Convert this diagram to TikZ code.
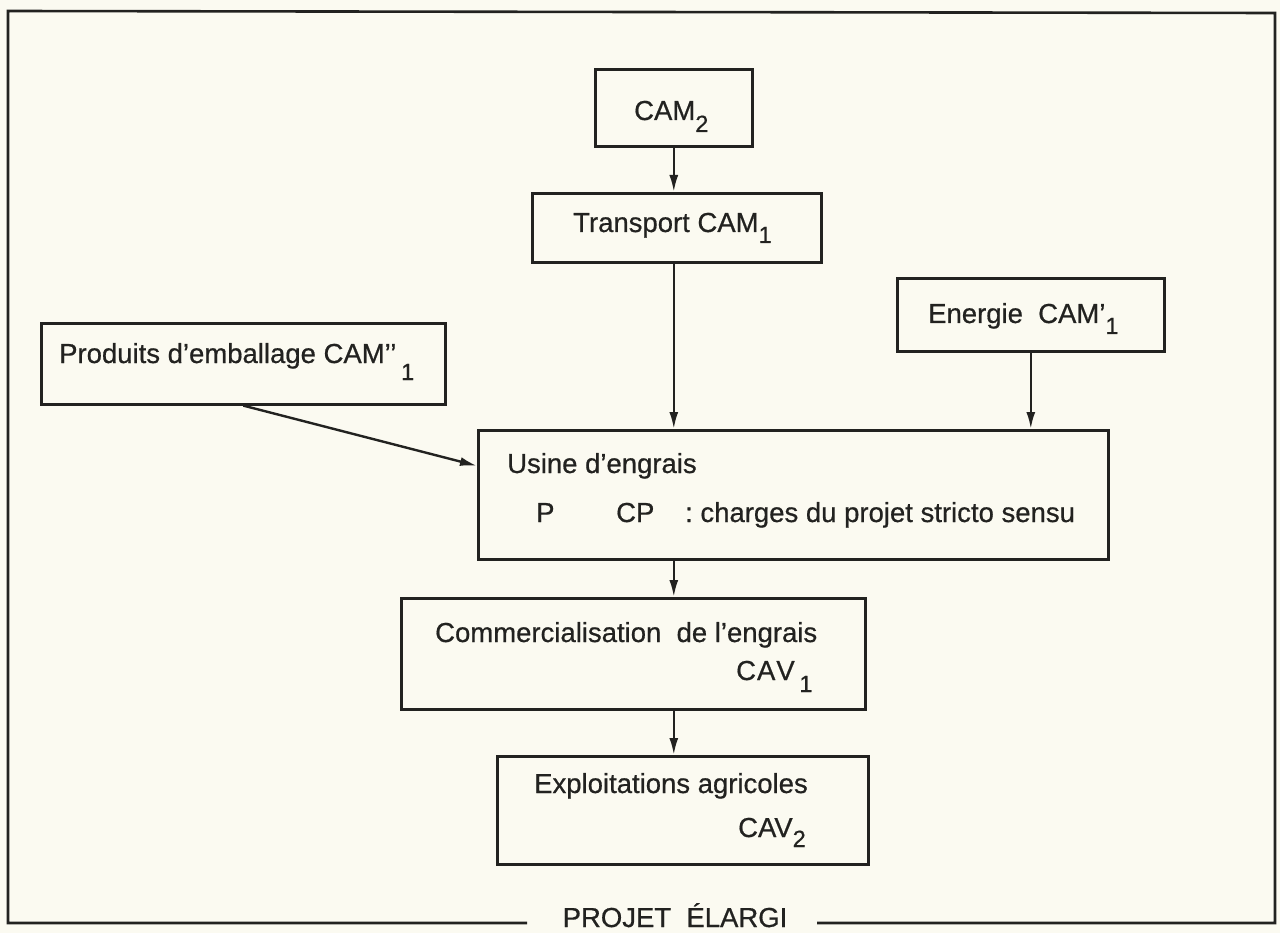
\documentclass[tikz,border=0pt]{standalone}
\usepackage{fontspec}
\setmainfont{Liberation Sans}[FakeBold=0.6]
\usetikzlibrary{arrows.meta,calc}
\definecolor{ink}{RGB}{34,34,32}
\definecolor{paper}{RGB}{251,250,241}
\newcommand{\sbx}[2][11]{\raisebox{-#1pt}{\fontsize{23.5}{23.5}\selectfont #2}}
\tikzset{
  boxnode/.style={draw=ink, line width=2.6pt, inner sep=0pt, anchor=north west, rectangle},
  txt/.style={anchor=base west, inner sep=0pt, text=ink, font=\fontsize{27.5}{30}\selectfont},
  conn/.style={draw=ink, line width=2.4pt, -{Latex[length=17pt,width=9pt]}},
  frame/.style={draw=ink, line width=2.6pt}
}
\begin{document}
\begin{tikzpicture}[x=1pt,y=-1pt]
\fill[paper] (0,0) rectangle (1280,933);
\useasboundingbox (0,0) rectangle (1280,933);
% boxes
\node[boxnode, minimum width=157pt, minimum height=77pt] (cam2) at (594,68) {};
\node[boxnode, minimum width=289pt, minimum height=69pt] (trans) at (531,192) {};
\node[boxnode, minimum width=267pt, minimum height=73pt] (energie) at (896,277) {};
\node[boxnode, minimum width=404pt, minimum height=81pt] (prod) at (40,322) {};
\node[boxnode, minimum width=630pt, minimum height=129pt] (usine) at (477,429) {};
\node[boxnode, minimum width=464pt, minimum height=111pt] (comm) at (400,597) {};
\node[boxnode, minimum width=371pt, minimum height=108pt] (expl) at (496,755) {};
% texts
\node[txt] (tcam2) at (634,120) {CAM\sbx[12]{2}};
\node[txt] (ttrans) at (573,232) {Transport CAM\sbx{1}};
\node[txt] (tener) at (928,323) {Energie\ \ CAM’\sbx{1}};
\node[txt] (tprod) at (59,363) {Produits d’emballage CAM’’\,\sbx[17]{1}};
\node[txt] (tus1) at (507,473) {Usine d’engrais};
\node[txt] (tusp) at (536,522) {P};
\node[txt] (tuscp) at (616,522) {CP};
\node[txt] (tusch) at (685,522) {:\ charges du projet stricto sensu};
\node[txt] (tcom1) at (435,642) {Commercialisation\ \ de l’engrais};
\node[txt] (tcav1) at (736,680) {C\kern1ptA\kern1ptV\,\sbx[12]{1}};
\node[txt] (texp1) at (534,793) {Exploitations agricoles};
\node[txt] (tcav2) at (738,837) {CAV\sbx[10]{2}};
\node[txt, anchor=base] (lbl) at (675,927) {PROJET\ \ ÉLARGI};
% frame
\coordinate (fl) at (527,923);
\coordinate (fr) at (817,923);
\draw[frame] (fl) -- (8,923) -- (8,11) -- (1275,13) -- (1275,923) -- (fr);
% connectors
\draw[conn] (cam2.south) -- (cam2.south |- trans.north);
\draw[conn] (cam2.south |- trans.south) -- (cam2.south |- usine.north);
\draw[conn] (energie.south) -- (energie.south |- usine.north);
\draw[conn] (prod.south) -- ($(usine.north west)!0.28!(usine.south west)$);
\draw[conn] (cam2.south |- usine.south) -- (cam2.south |- comm.north);
\draw[conn] (cam2.south |- comm.south) -- (cam2.south |- expl.north);
\end{tikzpicture}
\end{document}
